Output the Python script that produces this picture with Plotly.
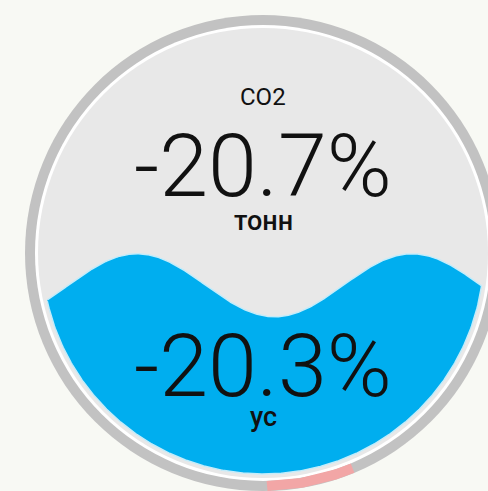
import numpy as np
import plotly.graph_objects as go

# ---- data ----
title_labels = ["CO2"]
top_values = ["-20.7%"]
top_units = ["тонн"]
bottom_values = ["-20.3%"]
bottom_units = ["ус"]
fill_level = [0.427]          # liquid fill fraction of the inner circle
ring_progress = [0.06]        # red arc fraction of the outer ring

# ---- geometry / style ----
W, H = 488, 491
CX, CY = 263, 253
R_OUT, R_RING_IN, R_INNER, R_LIQ = 238, 228, 225, 221
WAVE_AMP, WAVE_LEN, WAVE_CREST = 31.5, 275, 137
BG = "#f8f9f4"
RING = "#c2c2c2"
INNER = "#e8e8e8"
BLUE = "#00aeef"
PINK = "#f2a6a6"

fig = go.Figure()

def circ(r, color):
    return dict(type="circle", xref="x", yref="y", x0=CX - r, x1=CX + r,
                y0=CY - r, y1=CY + r, fillcolor=color, line=dict(width=0), layer="below")

shapes = [circ(R_OUT, RING), circ(R_RING_IN, "#ffffff"), circ(R_INNER, INNER)]

# red progress arc on the ring (starting near bottom, going anticlockwise on screen)
a0 = np.deg2rad(89)
a1 = a0 - 2 * np.pi * ring_progress[0]
ang = np.linspace(a0, a1, 60)
rm = (R_OUT + R_RING_IN) / 2
fig.add_trace(go.Scatter(x=CX + rm * np.cos(ang), y=CY + rm * np.sin(ang), mode="lines",
                         line=dict(color=PINK, width=R_OUT - R_RING_IN), hoverinfo="skip"))

# liquid wave
mean_y = CY + R_LIQ - 2 * R_LIQ * fill_level[0]
xs = np.linspace(CX - R_LIQ, CX + R_LIQ, 500)
half = np.sqrt(np.clip(R_LIQ ** 2 - (xs - CX) ** 2, 0, None))
ctop, cbot = CY - half, CY + half
wave = mean_y - WAVE_AMP * np.cos(2 * np.pi * (xs - WAVE_CREST) / WAVE_LEN)
inside = wave < cbot
xs, wave, cbot = xs[inside], wave[inside], cbot[inside]
ytop = np.maximum(wave, CY - np.sqrt(np.clip(R_LIQ ** 2 - (xs - CX) ** 2, 0, None)))
px = np.concatenate([xs, xs[::-1]])
py = np.concatenate([ytop, cbot[::-1]])
fig.add_trace(go.Scatter(x=px, y=py, fill="toself", fillcolor=BLUE, mode="lines",
                         line=dict(color="#c4ecfa", width=1.5), hoverinfo="skip"))

font = "Roboto, 'Open Sans', sans-serif"
ann = [
    dict(x=CX, y=97, text=title_labels[0], font=dict(size=24, family=font, color="#111")),
    dict(x=CX, y=165, text=top_values[0], font=dict(size=88, family=font, color="#111", weight=300)),
    dict(x=CX, y=221, text=top_units[0], font=dict(size=27, family=font, color="#111", weight=500)),
    dict(x=CX, y=365, text=bottom_values[0], font=dict(size=88, family=font, color="#111", weight=300)),
    dict(x=CX, y=417, text=bottom_units[0], font=dict(size=27, family=font, color="#111", weight=500)),
]
for a in ann:
    a.update(xref="x", yref="y", showarrow=False, xanchor="center", yanchor="middle")

fig.update_layout(
    width=W, height=H, margin=dict(l=0, r=0, t=0, b=0),
    paper_bgcolor=BG, plot_bgcolor=BG, showlegend=False,
    xaxis=dict(range=[0, W], visible=False, fixedrange=True),
    yaxis=dict(range=[H, 0], visible=False, fixedrange=True),
    shapes=shapes, annotations=ann,
)
fig.write_html("out.html", config={"displayModeBar": False},
               post_script="document.body.style.margin='0';document.body.style.overflow='hidden';document.body.style.background='" + BG + "';")
